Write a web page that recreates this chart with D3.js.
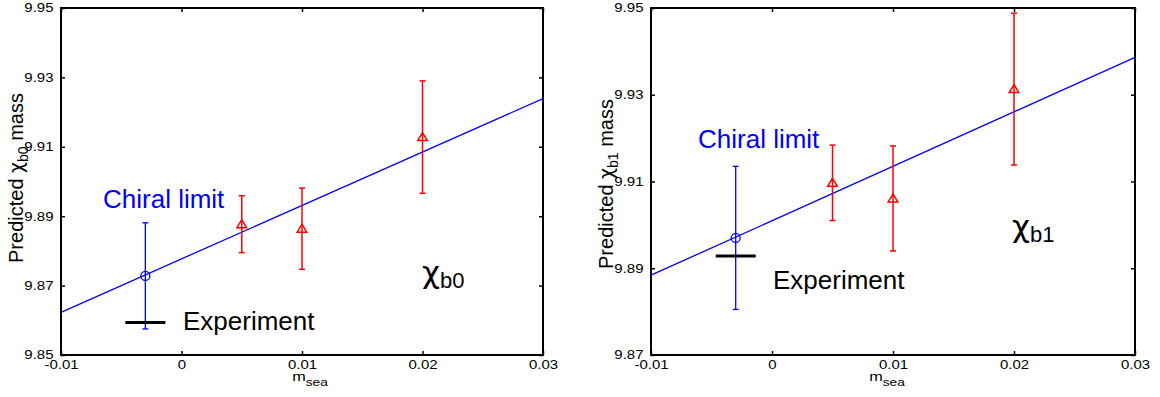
<!DOCTYPE html>
<html>
<head>
<meta charset="utf-8">
<script src="https://cdn.jsdelivr.net/npm/d3@7"></script>
<style>
  body { margin: 0; background: #fff; }
  svg { font-family: "Liberation Sans", Arial, Helvetica, sans-serif; }
</style>
</head>
<body>
<div id="chart"></div>
<script>
// data
const xTicks = [-0.01, 0, 0.01, 0.02, 0.03];
const yTicksB0 = [9.85, 9.87, 9.89, 9.91, 9.93, 9.95];
const yTicksB1 = [9.87, 9.89, 9.91, 9.93, 9.95];
const seaMass = [0.005, 0.01, 0.02];
const chiralX = -0.003;
const fitX = [-0.01, 0.03];

// chi_b0
const b0Mass = [9.8877, 9.8864, 9.9128];
const b0Err = [0.0082, 0.0117, 0.0162];
const b0Chiral = [9.8728];
const b0ChiralErr = [0.0153];
const b0Fit = [9.8623, 9.9239];
const b0Expt = 9.8594;

// chi_b1
const b1Mass = [9.9097, 9.9061, 9.9313];
const b1Err = [0.0087, 0.0121, 0.0175];
const b1Chiral = [9.8970];
const b1ChiralErr = [0.0165];
const b1Fit = [9.8884, 9.9386];
const b1Expt = 9.8928;

const svg = d3.select("#chart")
    .append("svg")
    .attr("width", 1160)
    .attr("height", 397);

svg.append("rect").attr("width", 1160).attr("height", 397).attr("fill", "#fff");

const panels = [
  { left: 61, width: 482, yDomain: [9.85, 9.95], yTicks: yTicksB0,
    mass: b0Mass, err: b0Err, chiral: b0Chiral, chiralErr: b0ChiralErr, fit: b0Fit, expt: b0Expt,
    sub: "b0", titleY: 178, msX: 249,
    chiralLabel: [42, 200], exptLabel: [122, 322], chiLabel: [361, 275] },
  { left: 651, width: 484, yDomain: [9.87, 9.95], yTicks: yTicksB1,
    mass: b1Mass, err: b1Err, chiral: b1Chiral, chiralErr: b1ChiralErr, fit: b1Fit, expt: b1Expt,
    sub: "b1", titleY: 184, msX: 236,
    chiralLabel: [47, 140], exptLabel: [122, 281], chiLabel: [361, 229] }
];

const plotTop = 8, plotH = 347;
const fmt = d => d === 0 ? "0" : d3.format(".2f")(d).replace("−", "-");

panels.forEach(function (p) {
  const g = svg.append("g").attr("transform", `translate(${p.left}, ${plotTop})`);

  const x = d3.scaleLinear().domain([-0.01, 0.03]).range([0, p.width]);
  const y = d3.scaleLinear().domain(p.yDomain).range([plotH, 0]);

  // axes, ticks pointing inward
  g.append("g").attr("transform", `translate(0, ${plotH})`)
      .call(d3.axisBottom(x).tickValues(xTicks).tickSize(-4).tickPadding(5).tickFormat(fmt));
  g.append("g")
      .call(d3.axisLeft(y).tickValues(p.yTicks).tickSize(-4).tickPadding(6).tickFormat(fmt));
  g.append("g").call(d3.axisTop(x).tickValues(xTicks).tickSize(-4).tickFormat(""));
  g.append("g").attr("transform", `translate(${p.width}, 0)`)
      .call(d3.axisRight(y).tickValues(p.yTicks).tickSize(-4).tickFormat(""));

  g.selectAll(".domain").remove();
  g.selectAll(".tick line").attr("stroke", "#000").attr("stroke-width", 1.5);
  g.selectAll(".tick text").attr("fill", "#000")
      .style("font-size", "12px").style("font-family", "Liberation Sans, Arial")
      .attr("transform", "scale(1.25,1)");

  g.append("rect").attr("width", p.width).attr("height", plotH)
      .attr("fill", "none").attr("stroke", "#000").attr("stroke-width", 2);

  // fit line
  g.append("line")
      .attr("x1", x(fitX[0])).attr("y1", y(p.fit[0]))
      .attr("x2", x(fitX[1])).attr("y2", y(p.fit[1]))
      .attr("stroke", "#0000ff").attr("stroke-width", 1.3);

  // red error bars
  const pts = seaMass.map((m, i) => ({ x: m, y: p.mass[i], e: p.err[i] }));
  const eb = g.append("g").attr("stroke", "#ff0000").attr("stroke-width", 1.5).attr("fill", "none");
  eb.selectAll(".bar").data(pts).join("line")
      .attr("x1", d => x(d.x)).attr("x2", d => x(d.x))
      .attr("y1", d => y(d.y - d.e)).attr("y2", d => y(d.y + d.e));
  eb.selectAll(".capT").data(pts).join("line")
      .attr("x1", d => x(d.x) - 3).attr("x2", d => x(d.x) + 3)
      .attr("y1", d => y(d.y + d.e)).attr("y2", d => y(d.y + d.e));
  eb.selectAll(".capB").data(pts).join("line")
      .attr("x1", d => x(d.x) - 3).attr("x2", d => x(d.x) + 3)
      .attr("y1", d => y(d.y - d.e)).attr("y2", d => y(d.y - d.e));
  eb.selectAll(".tri").data(pts).join("path")
      .attr("transform", d => `translate(${x(d.x)}, ${y(d.y)})`)
      .attr("d", "M0,-4.5L4.8,3.5L-4.8,3.5Z");

  // chiral limit
  const cp = p.chiral.map((v, i) => ({ x: chiralX, y: v, e: p.chiralErr[i] }));
  const cb = g.append("g").attr("stroke", "#0000ff").attr("stroke-width", 1.3).attr("fill", "none");
  cb.selectAll(".bar").data(cp).join("line")
      .attr("x1", d => x(d.x)).attr("x2", d => x(d.x))
      .attr("y1", d => y(d.y - d.e)).attr("y2", d => y(d.y + d.e));
  cb.selectAll(".capT").data(cp).join("line")
      .attr("x1", d => x(d.x) - 3).attr("x2", d => x(d.x) + 3)
      .attr("y1", d => y(d.y + d.e)).attr("y2", d => y(d.y + d.e));
  cb.selectAll(".capB").data(cp).join("line")
      .attr("x1", d => x(d.x) - 3).attr("x2", d => x(d.x) + 3)
      .attr("y1", d => y(d.y - d.e)).attr("y2", d => y(d.y - d.e));
  cb.selectAll("circle").data(cp).join("circle")
      .attr("cx", d => x(d.x)).attr("cy", d => y(d.y)).attr("r", 4.5);

  // experiment marker
  g.append("line")
      .attr("x1", x(chiralX) - 20).attr("x2", x(chiralX) + 20)
      .attr("y1", y(p.expt)).attr("y2", y(p.expt))
      .attr("stroke", "#000").attr("stroke-width", 3);

  // labels
  g.append("text").attr("x", p.chiralLabel[0]).attr("y", p.chiralLabel[1])
      .text("Chiral limit").style("font-size", "26px").attr("fill", "#0000ff");
  g.append("text").attr("x", p.exptLabel[0]).attr("y", p.exptLabel[1])
      .text("Experiment").style("font-size", "26px").attr("fill", "#000");

  const chi = g.append("text").attr("x", p.chiLabel[0]).attr("y", p.chiLabel[1]).attr("fill", "#000");
  chi.append("tspan").text("χ").style("font-size", "31px").style("font-family", "DejaVu Sans");
  chi.append("tspan").text(p.sub).style("font-size", "22px").attr("dy", 5);

  // y title
  const yt = g.append("text")
      .attr("transform", `translate(-38, ${p.titleY - plotTop}) rotate(-90)`)
      .attr("text-anchor", "middle").style("font-size", "20px").attr("fill", "#000");
  yt.append("tspan").text("Predicted ");
  yt.append("tspan").text("χ").style("font-family", "DejaVu Sans").style("font-size", "19px");
  yt.append("tspan").text(p.sub).style("font-size", "14px").attr("dy", 5);
  yt.append("tspan").text(" mass").attr("dy", -5);

  // x title
  const xt = g.append("text")
      .attr("transform", `translate(${p.msX}, ${381 - plotTop}) scale(1.25,1)`)
      .attr("text-anchor", "middle").style("font-size", "13px").attr("fill", "#000");
  xt.append("tspan").text("m");
  xt.append("tspan").text("sea").style("font-size", "11px").attr("dy", 5);
});
</script>
</body>
</html>
